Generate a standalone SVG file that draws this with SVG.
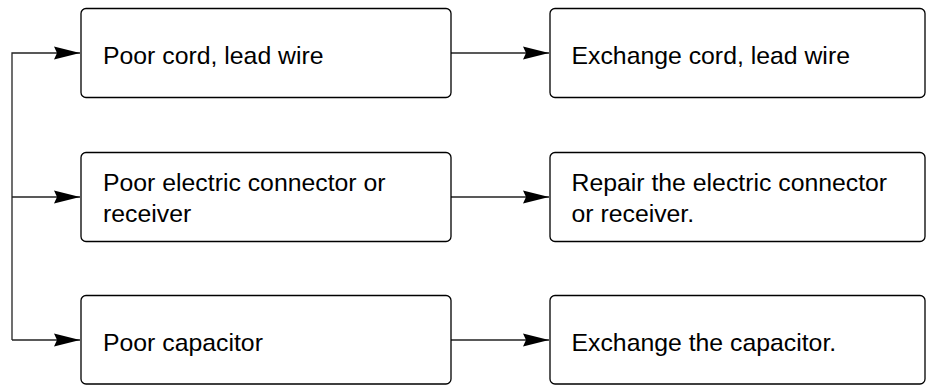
<svg xmlns="http://www.w3.org/2000/svg" width="930" height="385" viewBox="0 0 930 385">
<style>
.box{fill:#fff;stroke:#000;stroke-width:1.3}
.t{font-family:"Liberation Sans",Arial,Helvetica,sans-serif;font-size:24.8px;fill:#000}
.c{fill:none;stroke:#222;stroke-width:1.3}
</style>
<defs>
<marker id="ah" markerUnits="userSpaceOnUse" markerWidth="28" markerHeight="16" viewBox="0 0 28 16" refX="26" refY="7" orient="auto">
<path d="M0,0.5 L26,7 L0,13.5 L3,7 Z" fill="#000"/>
</marker>
</defs>
<g id="connectors">
<path class="c" d="M12,340 L12,53 L80,53" marker-end="url(#ah)"/>
<path class="c" d="M12,197 L80,197" marker-end="url(#ah)"/>
<path class="c" d="M12,340 L80,340" marker-end="url(#ah)"/>
<path class="c" d="M451,53 L549,53" marker-end="url(#ah)"/>
<path class="c" d="M451,197 L549,197" marker-end="url(#ah)"/>
<path class="c" d="M451,340 L549,340" marker-end="url(#ah)"/>
</g>
<g id="n1">
<rect class="box" x="81" y="8.5" width="370" height="89" rx="5"/>
<text class="t" x="103" y="64">Poor cord, lead wire</text>
</g>
<g id="n2">
<rect class="box" x="550" y="8.5" width="375" height="89" rx="5"/>
<text class="t" x="571.5" y="64">Exchange cord, lead wire</text>
</g>
<g id="n3">
<rect class="box" x="81" y="152.5" width="370" height="89" rx="5"/>
<text class="t" x="103" y="191">Poor electric connector or</text>
<text class="t" x="103" y="222">receiver</text>
</g>
<g id="n4">
<rect class="box" x="550" y="152.5" width="375" height="89" rx="5"/>
<text class="t" x="571.5" y="191">Repair the electric connector</text>
<text class="t" x="571.5" y="222">or receiver.</text>
</g>
<g id="n5">
<rect class="box" x="81" y="295.5" width="370" height="88.5" rx="5"/>
<text class="t" x="103" y="351">Poor capacitor</text>
</g>
<g id="n6">
<rect class="box" x="550" y="295.5" width="375" height="88.5" rx="5"/>
<text class="t" x="571.5" y="351">Exchange the capacitor.</text>
</g>
</svg>
